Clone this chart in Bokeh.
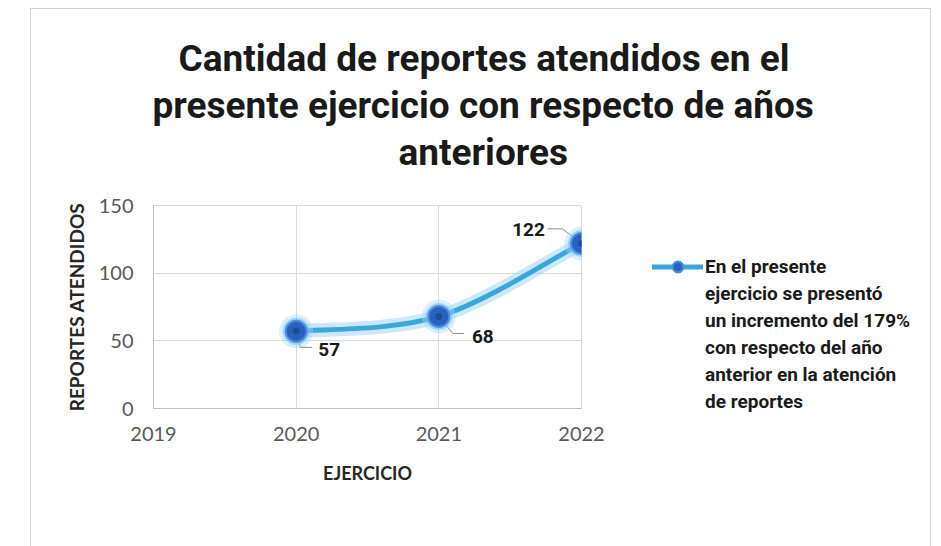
from bokeh.plotting import figure
from bokeh.models import Range1d, FixedTicker, Legend, LegendItem, Title
from bokeh.core.properties import value
from bokeh.embed import file_html
from bokeh.resources import INLINE

# ---------------- data ----------------
title_lines = [
    "Cantidad de reportes atendidos en el",
    "presente ejercicio con respecto de años",
    "anteriores",
]
years = [2020, 2021, 2022]
reportes = [57, 68, 122]
x_ticks = [2019, 2020, 2021, 2022]
y_ticks = [0, 50, 100, 150]
x_axis_label = "EJERCICIO"
y_axis_label = "REPORTES ATENDIDOS"
legend_lines = [
    "En el presente",
    "ejercicio se presentó",
    "un incremento del 179%",
    "con respecto del año",
    "anterior en la atención",
    "de reportes",
]

# ---------------- layout constants ----------------
FRAME_W, FRAME_H = 428, 203
ML, MR, MT, MB = 122, 351, 196, 138
X0, X1 = x_ticks[0], x_ticks[-1]
Y0, Y1 = y_ticks[0], y_ticks[-1]

COND = "Roboto"
BODY = "Lato"
INK = "#1a1a1a"

p = figure(
    frame_width=FRAME_W, frame_height=FRAME_H,
    x_range=Range1d(X0, X1), y_range=Range1d(Y0, Y1),
    output_backend="svg", toolbar_location=None,
    min_border_left=ML, min_border_right=MR,
    min_border_top=MT, min_border_bottom=MB,
    background_fill_color="white", border_fill_color="white",
)
p.margin = (8, 0, 0, 30)
p.styles = {
    "border-top": "1px solid #d4d4d4",
    "border-left": "1px solid #d4d4d4",
    "border-right": "1px solid #d4d4d4",
    "max-width": f"{ML + FRAME_W + MR}px",
    "overflow": "hidden",
}
p.outline_line_color = "#d9d9d9"

# spacer between title block and plot area, then the three centred title lines
p.add_layout(Title(text=" ", text_font_size="1px", standoff=28), "above")
title_offsets = [25, -1, 245]
for line, off in reversed(list(zip(title_lines, title_offsets))):
    p.add_layout(Title(text=line, align="left", offset=off, standoff=2,
                       text_font="Roboto", text_font_style="bold",
                       text_font_size="37px", text_color=INK), "above")

p.xaxis.ticker = FixedTicker(ticks=x_ticks)
p.yaxis.ticker = FixedTicker(ticks=y_ticks)
p.xaxis.axis_label = x_axis_label
p.yaxis.axis_label = y_axis_label
for ax in (p.xaxis, p.yaxis):
    ax.major_tick_line_color = None
    ax.minor_tick_line_color = None
    ax.major_tick_out = 0
    ax.major_tick_in = 0
    ax.axis_line_color = "#bfbfbf"
    ax.major_label_text_font = BODY
    ax.major_label_text_font_size = "20px"
    ax.major_label_text_color = "#595959"
    ax.axis_label_text_font = BODY
    ax.axis_label_text_font_style = "bold"
    ax.axis_label_text_color = "#262626"
p.xaxis.major_label_standoff = 18
p.xaxis.axis_label_standoff = 18
p.xaxis.axis_label_text_font_size = "18px"
p.yaxis.major_label_standoff = 20
p.yaxis.axis_label_standoff = 8
p.yaxis.axis_label_text_font_size = "19px"
p.grid.grid_line_color = "#d9d9d9"
p.grid.grid_line_width = 1

# smoothed line: Bezier segments built from the data points
n = len(years)
def pt(i):
    i = min(max(i, 0), n - 1)
    return years[i], reportes[i]
bx0, by0, bx1, by1, cx0, cy0, cx1, cy1 = ([] for _ in range(8))
for i in range(n - 1):
    xa, ya = pt(i); xb, yb = pt(i + 1)
    xp, yp = pt(i - 1); xn, yn = pt(i + 2)
    bx0.append(xa); by0.append(ya); bx1.append(xb); by1.append(yb)
    cx0.append(xa + (xb - xp) / 6); cy0.append(ya + (yb - yp) / 6)
    cx1.append(xb - (xn - xa) / 6); cy1.append(yb - (yn - ya) / 6)

p.bezier(x0=bx0, y0=by0, x1=bx1, y1=by1, cx0=cx0, cy0=cy0, cx1=cx1, cy1=cy1,
         line_color="#a9dbfa", line_width=14, line_alpha=0.6, line_cap="round")
main_line = p.bezier(x0=bx0, y0=by0, x1=bx1, y1=by1, cx0=cx0, cy0=cy0, cx1=cx1, cy1=cy1,
                     line_color="#3aa6de", line_width=5, line_cap="round")

# leader lines (pixel offsets converted to data units)
px_x = FRAME_W / (X1 - X0)
px_y = FRAME_H / (Y1 - Y0)
leader_px = [[(0, 0), (4, 16), (16, 16)],
             [(0, 0), (14, 17), (25, 17)],
             [(0, 0), (-19, -14.5), (-34, -14.5)]]
lxs = [[x + dx / px_x for dx, dy in pts] for x, pts in zip(years, leader_px)]
lys = [[y - dy / px_y for dx, dy in pts] for y, pts in zip(reportes, leader_px)]
p.multi_line(xs=lxs, ys=lys, line_color="#8c8c8c", line_width=1)

# markers with glow
p.scatter(years, reportes, size=34, fill_color="#a3daf9", fill_alpha=0.4, line_color=None)
p.scatter(years, reportes, size=27, fill_color="#6fc0f3", fill_alpha=0.55, line_color=None)
marker = p.scatter(years, reportes, size=21, fill_color="#2861c0", line_color="#4a8edc", line_width=2)
p.scatter(years, reportes, size=7, fill_color="#1b4c99", line_color=None)

# data labels
p.text(x=years, y=reportes, text=[str(v) for v in reportes],
       x_offset=[33, 44, -53], y_offset=[18.5, 20, -13.5],
       text_align="center", text_baseline="middle",
       text_font=value(COND), text_font_style="bold", text_font_size="19px",
       text_color=INK)

# legend (right side panel): first line carries the glyph, the rest continue the label;
# two empty rows on top place the block vertically
items = [LegendItem(label="", renderers=[]) for _ in range(2)]
items += [LegendItem(label=legend_lines[0], renderers=[main_line, marker])]
items += [LegendItem(label=t, renderers=[]) for t in legend_lines[1:]]
legend = Legend(
    items=items, location="center_left",
    glyph_width=51, glyph_height=27, label_standoff=2,
    padding=0, margin=71, spacing=0,
    border_line_color=None, background_fill_alpha=0,
    label_text_font=COND, label_text_font_size="19px",
    label_text_font_style="bold", label_text_color=INK, label_height=27,
)
p.add_layout(legend, "right")

open("out.html", "w").write(file_html(p, INLINE))
